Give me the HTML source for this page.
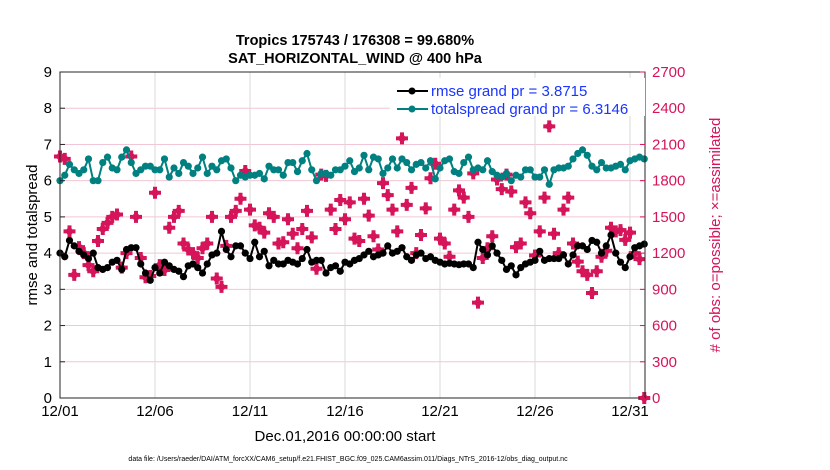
<!DOCTYPE html>
<html><head><meta charset="utf-8"><style>
html,body{margin:0;padding:0;background:#fff;}
svg{display:block;font-family:"Liberation Sans",Arial,sans-serif;}
</style></head><body>
<svg id="chart" width="830" height="470" viewBox="0 0 830 470" xmlns="http://www.w3.org/2000/svg">
<rect width="830" height="470" fill="#fff"/>
<text x="355" y="45" text-anchor="middle" font-size="14.5" font-weight="bold">Tropics 175743 / 176308 = 99.680%</text>
<text x="355" y="63" text-anchor="middle" font-size="14.5" font-weight="bold">SAT_HORIZONTAL_WIND @ 400 hPa</text>
<g id="grid"></g>
<g id="marks"></g>
<rect x="60" y="72" width="585" height="326" fill="none" stroke="#262626" stroke-width="1"/>
<g id="axes"></g>
<text transform="translate(37,235) rotate(-90)" text-anchor="middle" font-size="15">rmse and totalspread</text>
<text transform="translate(720,235) rotate(-90)" text-anchor="middle" font-size="15" fill="#d5145a"># of obs: o=possible; ×=assimilated</text>
<text x="345" y="441" text-anchor="middle" font-size="15">Dec.01,2016 00:00:00 start</text>
<text x="348" y="461" text-anchor="middle" font-size="7">data file: /Users/raeder/DAI/ATM_forcXX/CAM6_setup/f.e21.FHIST_BGC.f09_025.CAM6assim.011/Diags_NTrS_2016-12/obs_diag_output.nc</text>
<g>
<rect x="390" y="78" width="255" height="38" fill="#fff"/>
<g>
<line x1="397" y1="91" x2="428" y2="91" stroke="#000" stroke-width="2"/>
<circle cx="412" cy="91" r="3.5" fill="#000"/>
<text x="431" y="96" font-size="15" fill="#1a35ff">rmse grand pr = 3.8715</text>
</g>
<g>
<line x1="397" y1="109" x2="428" y2="109" stroke="#008080" stroke-width="2"/>
<circle cx="412" cy="109" r="3.5" fill="#008080"/>
<text x="431" y="114" font-size="15" fill="#1a35ff">totalspread grand pr = 6.3146</text>
</g>
</g>
</svg>
<script>
const xTickLabels = ["12/01","12/06","12/11","12/16","12/21","12/26","12/31"];
const yTicks = [0,1,2,3,4,5,6,7,8,9];
const y2Ticks = [0,300,600,900,1200,1500,1800,2100,2400,2700];
const rmse = [4.0,3.9,4.35,4.2, 4.05,3.95,3.85,4.0, 3.6,3.55,3.6,3.75, 3.8,3.55,4.1,4.15, 4.15,3.7,3.45,3.25, 3.6,3.45,3.75,3.65, 3.55,3.5,3.35,3.65, 3.7,3.6,3.45,3.7, 3.95,4.0,4.6,4.1, 3.9,4.2,4.2,4.0, 3.85,4.3,3.9,4.05, 3.65,3.8,3.7,3.7, 3.8,3.75,3.7,3.85, 4.1,3.75,3.8,3.8, 3.45,3.6,3.65,3.5, 3.75,3.7,3.8,3.85, 3.95,4.05,3.9,3.95, 4.0,4.2,4.0,4.05, 4.15,3.9,3.8,3.95, 4.0,3.85,3.9,3.8, 3.75,3.7,3.72,3.7, 3.68,3.7,3.7,3.6, 4.3,4.1,3.95,4.2, 4.0,3.8,3.55,3.65, 3.4,3.6,3.7,3.75, 3.8,4.05,3.8,3.85, 3.85,3.85,3.95,3.7, 3.95,4.2,4.2,4.1, 4.35,4.3,4.0,4.2, 4.5,4.0,3.75,3.6, 3.9,4.15,4.2,4.25];
const totalspread = [6.0,6.15,6.45,6.3, 6.2,6.3,6.6,6.0, 6.0,6.5,6.65,6.35, 6.3,6.65,6.85,6.5, 6.2,6.3,6.4,6.4, 6.3,6.3,6.6,6.1, 6.35,6.2,6.5,6.4, 6.2,6.35,6.65,6.2, 6.4,6.3,6.55,6.6, 6.35,6.0,6.15,6.1, 6.15,6.15,6.2,6.05, 6.4,6.3,6.3,6.15, 6.5,6.5,6.25,6.55, 6.75,6.3,6.0,6.2, 6.2,6.15,6.3,6.3, 6.4,6.55,6.25,6.35, 6.7,6.3,6.65,6.6, 6.2,6.35,6.6,6.35, 6.6,6.5,6.3,6.45, 6.5,6.35,6.55,6.05, 6.35,6.55,6.6,6.25, 6.2,6.5,6.65,6.3, 6.35,6.3,6.55,6.25, 6.15,6.1,6.2,6.0, 6.15,6.1,6.3,6.3, 6.1,6.1,6.3,5.9, 6.3,6.35,6.35,6.4, 6.6,6.75,6.85,6.7, 6.4,6.3,6.5,6.35, 6.35,6.4,6.45,6.3, 6.55,6.6,6.65,6.6];
const obsCount = [2000,1980,1380,1020, 1250,1200,1100,1050, 1300,1400,1450,1500, 1520,1080,1200,2000, 1500,1160,1000,1010, 1700,1100,1060,1410, 1500,1550,1280,1230, 1200,1160,1240,1280, 1500,990,920,1260, 1500,1550,1650,1880, 1560,1430,1410,1370, 1530,1500,1280,1290, 1480,1360,1240,1400, 1550,1330,1070,1850, 1840,1560,1400,1640, 1480,1620,1320,1300, 1650,1510,1340,1230, 1780,1680,1560,1380, 2150,1600,1740,1200, 1350,1570,1820,1940, 1320,1280,1170,1560, 1720,1660,1500,1860, 790,1160,1240,1340, 1810,1730,1850,1710, 1250,1280,1620,1530, 1180,1380,1660,2250, 1360,1200,1560,1660, 1280,1130,1050,1020, 870,1050,1170,1220, 1410,1380,1390,1310, 1370,1200,1150,0];

const NS="http://www.w3.org/2000/svg";
const X0=60,Y0=398,YT=72,DAYPX=19;
const xScale=i=>X0+i*DAYPX/4;
const yScale=v=>Y0-v*(Y0-YT)/9;
const y2Scale=v=>Y0-v*(Y0-YT)/2700;
function mk(tag,attrs,parent){const e=document.createElementNS(NS,tag);for(const k in attrs)e.setAttribute(k,attrs[k]);parent.appendChild(e);return e;}
const grid=document.getElementById('grid'),marks=document.getElementById('marks'),axes=document.getElementById('axes');

yTicks.forEach((t,i)=>{
  if(t>0&&t<9){const l=mk('line',{x1:X0,x2:645,y1:yScale(t),y2:yScale(t),stroke:'#f2c6d6','stroke-width':1},grid);
  
  }
  const tx=mk('text',{x:X0-8,y:yScale(t)+5,'text-anchor':'end','font-size':15},axes);tx.textContent=t;
  
  
  mk('line',{x1:X0,x2:X0+5,y1:yScale(t),y2:yScale(t),stroke:'#262626'},axes);
});
y2Ticks.forEach(t=>{
  const tx=mk('text',{x:652,y:y2Scale(t)+5,'font-size':15,fill:'#d5145a'},axes);tx.textContent=t;
  
  
  mk('line',{x1:640,x2:645,y1:y2Scale(t),y2:y2Scale(t),stroke:'#d5145a'},axes);
});
xTickLabels.forEach((lab,k)=>{
  const x=X0+k*5*DAYPX;
  if(k>0){const l=mk('line',{x1:x,x2:x,y1:YT,y2:Y0,stroke:'#d9d9d9','stroke-width':1},grid);
  
  }
  const tx=mk('text',{x:x,y:Y0+18,'text-anchor':'middle','font-size':15},axes);tx.textContent=lab;
  
  
});

// obs markers (solid plus + diamond blob)
obsCount.forEach((v,i)=>{
  const cx=xScale(i),cy=y2Scale(v);
  const p=mk('path',{d:`M${cx-2},${cy-6}h4v4h4v4h-4v4h-4v-4h-4v-4h4z M${cx},${cy-5}L${cx+5},${cy}L${cx},${cy+5}L${cx-5},${cy}Z`,fill:'#d5145a'},marks);
  
  
});
function series(vals,color,name){
  const pts=vals.map((v,i)=>xScale(i)+','+yScale(v)).join(' ');
  const pl=mk('polyline',{points:pts,fill:'none',stroke:color,'stroke-width':2},marks);
  
  
  vals.forEach((v,i)=>{
    const c=mk('circle',{cx:xScale(i),cy:yScale(v),r:3.6,fill:color},marks);
    
    
  });
}
series(totalspread,'#008080','totalspread');
series(rmse,'#000','rmse');
</script>
</body></html>
